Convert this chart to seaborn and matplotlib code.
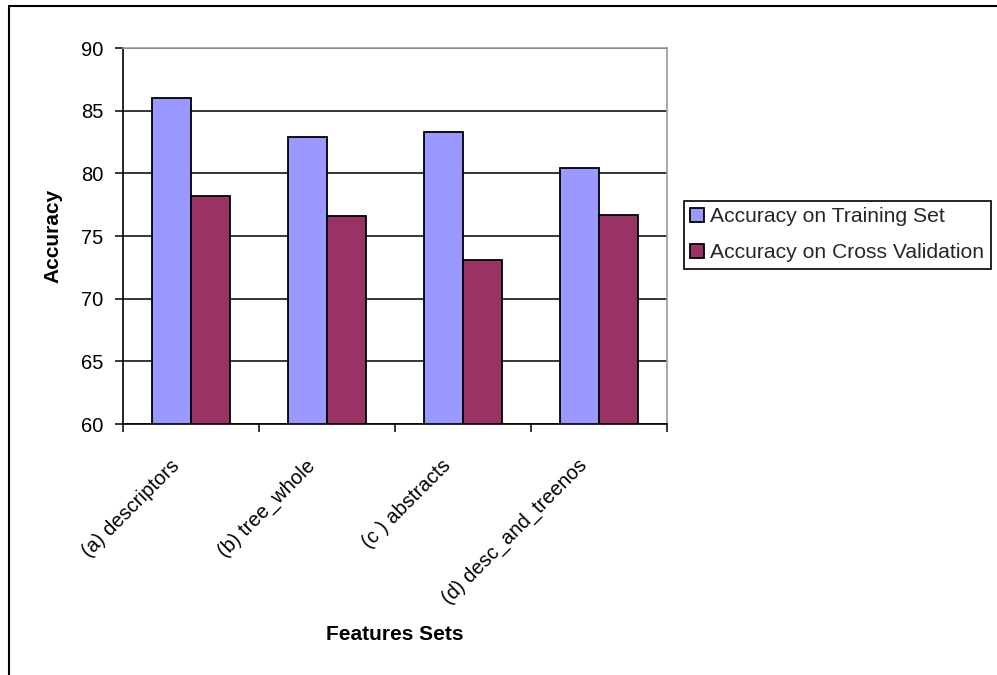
import matplotlib
matplotlib.use("Agg")
import matplotlib.pyplot as plt
import matplotlib.transforms as mtransforms
from matplotlib.lines import Line2D
import pandas as pd
import seaborn as sns

# Accuracy (%) of each feature set
feature_sets = ["(a) descriptors", "(b) tree_whole", "(c ) abstracts", "(d) desc_and_treenos"]
train_acc = [86.0, 82.9, 83.3, 80.4]
cv_acc = [78.2, 76.6, 73.1, 76.7]
series_names = ["Accuracy on Training Set", "Accuracy on Cross Validation"]
series_colors = ["#9999FF", "#993366"]
y_ticks = [60, 65, 70, 75, 80, 85, 90]

df = pd.DataFrame({
    "Features Sets": feature_sets * 2,
    "Accuracy": train_acc + cv_acc,
    "Series": [series_names[0]] * len(feature_sets) + [series_names[1]] * len(feature_sets),
})

sns.set_theme(style="white")
plt.rcParams["font.family"] = ["Liberation Sans", "DejaVu Sans"]
FS = 14.5

W, H = 997, 675
fig = plt.figure(figsize=(W / 100, H / 100), dpi=100)
ax = fig.add_axes([123 / W, 1 - 424 / H, 544 / W, 376 / H])

sns.barplot(
    data=df, x="Features Sets", y="Accuracy", hue="Series",
    order=feature_sets, hue_order=series_names, palette=series_colors,
    width=0.58, saturation=1, errorbar=None,
    edgecolor="black", linewidth=1.3, ax=ax,
)

ax.set_ylim(y_ticks[0], y_ticks[-1])
ax.set_yticks(y_ticks)
ax.set_xlim(-0.5, len(feature_sets) - 0.5)
ax.set_axisbelow(True)
ax.yaxis.grid(True, color="black", linewidth=1.1)
ax.xaxis.grid(False)

for side in ("left", "bottom"):
    ax.spines[side].set_color("black")
    ax.spines[side].set_linewidth(1.2)
for side in ("top", "right"):
    ax.spines[side].set_visible(True)
    ax.spines[side].set_color("#9a9a9a")
    ax.spines[side].set_linewidth(1.2)

# y ticks
ax.tick_params(axis="y", left=True, direction="out", length=6, width=1.1,
               color="black", labelsize=FS, labelcolor="black", pad=8)

# x: boundary tick marks as minor ticks, labels at category centres
ax.set_xticks([i - 0.5 for i in range(len(feature_sets) + 1)], minor=True)
ax.tick_params(axis="x", which="minor", bottom=True, direction="out",
               length=6, width=1.1, color="black")
ax.tick_params(axis="x", which="major", bottom=True, length=0, pad=23,
               labelsize=FS, labelcolor="black")
ax.set_xticks(range(len(feature_sets)))
ax.set_xticklabels(feature_sets, rotation=45, ha="right", va="top")
shift = mtransforms.ScaledTranslation(-8 / 100, 0, fig.dpi_scale_trans)
for lbl in ax.get_xticklabels():
    lbl.set_transform(lbl.get_transform() + shift)

ax.set_ylabel("Accuracy", fontsize=15, fontweight="bold", color="black")
ax.yaxis.set_label_coords((53 - 123) / 544, 0.5)
ax.yaxis.label.set_va("center")
ax.set_xlabel("Features Sets", fontsize=15, fontweight="bold", color="black")
ax.xaxis.set_label_coords(0.5, (424 - 634) / 376)
ax.xaxis.label.set_va("center")

handles, labels = ax.get_legend_handles_labels()
leg = ax.legend(
    handles, labels, loc="upper left",
    bbox_to_anchor=(684 / W, 1 - 201 / H), bbox_transform=fig.transFigure,
    fontsize=15.2, frameon=True, fancybox=False, framealpha=1,
    edgecolor="black", handlelength=0.65, handleheight=0.65,
    handletextpad=0.3, borderpad=0.3, labelspacing=0.8, borderaxespad=0,
)
leg.get_frame().set_linewidth(1.2)

# outer chart frame
fig.add_artist(Line2D([9 / W, 1], [1 - 6 / H] * 2, transform=fig.transFigure,
                      color="black", linewidth=1.5))
fig.add_artist(Line2D([9 / W] * 2, [0, 1 - 6 / H], transform=fig.transFigure,
                      color="black", linewidth=1.5))

fig.savefig("out.png", dpi=100, facecolor="white")
